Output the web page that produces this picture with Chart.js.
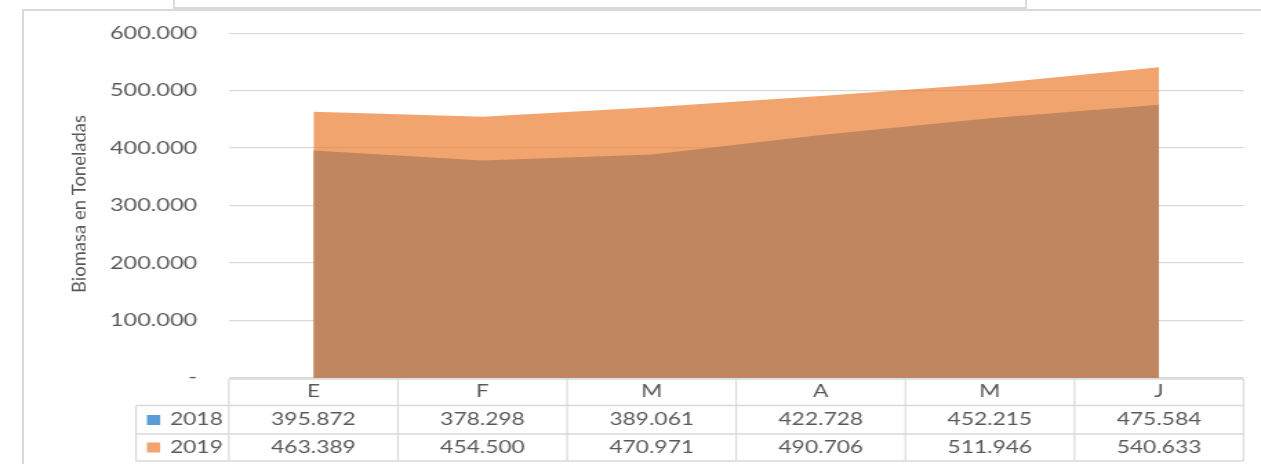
<!DOCTYPE html>
<html>
<head>
<meta charset="utf-8">
<script src="https://cdn.jsdelivr.net/npm/chart.js@4.4.1/dist/chart.umd.min.js"></script>
<style>
  html, body { margin: 0; padding: 0; background: #fff; overflow: hidden; }
  #page { position: relative; width: 1261px; height: 464px; overflow: hidden; background: #fff; }
  #frame { position: absolute; left: 22px; top: 9px; right: -10px; bottom: -10px;
           border-left: 2px solid #d9d9d9; border-top: 2px solid #d9d9d9; }
  #topbox { position: absolute; left: 173px; top: -4px; width: 850px; height: 9px;
            border: 2px solid #d9d9d9; background: #fff; }
  #stage { position: absolute; left: 0; top: 0; width: 914px; height: 464px;
           transform: scaleX(1.3796); transform-origin: 0 0; }
  #chart { display: block; }
</style>
</head>
<body>
<div id="page">
  <div id="frame"></div>
  <div id="topbox"></div>
  <div id="stage"><canvas id="chart" width="914" height="464"></canvas></div>
</div>
<script>
// Monthly biomass (tonnes)
const months = ['E', 'F', 'M', 'A', 'M', 'J'];
const seriesNames = ['2018', '2019'];
const biomasa2018 = [395872, 378298, 389061, 422728, 452215, 475584];
const biomasa2019 = [463389, 454500, 470971, 490706, 511946, 540633];
const yTickValues = [0, 100000, 200000, 300000, 400000, 500000, 600000];

const SX = 1261 / 914;          // horizontal stretch of the stage
const FONT = 'Lato, "Open Sans", sans-serif';
const TEXT = '#595959';
const LINE = '#d9d9d9';

const orangeFill = 'rgba(237,125,49,0.70)';
const brownFill = 'rgb(192,134,95)';
const keyColors = ['rgb(91,155,213)', 'rgb(242,164,111)'];

function fmt(v) {
  if (v === 0) return '-';
  return String(Math.round(v)).replace(/\B(?=(\d{3})+(?!\d))/g, '.');
}

// Data table under the plot plus the rotated axis title
const tablePlugin = {
  id: 'dataTable',
  afterDraw(chart) {
    const { ctx, chartArea: a, scales: { x } } = chart;
    const n = months.length;
    const colW = (a.right - a.left) / n;
    const edges = [];
    for (let i = 0; i < n; i++) edges.push(x.getPixelForValue(i) - colW / 2);
    edges.push(x.getPixelForValue(n - 1) + colW / 2);
    const legendLeft = 98.6;
    const yHead = 379, yRow1 = 405.5, yRow2 = 434, yEnd = 461;

    ctx.save();
    ctx.strokeStyle = LINE;
    // horizontal rules
    ctx.lineWidth = 1.6;
    ctx.beginPath();
    ctx.moveTo(edges[0], yHead); ctx.lineTo(edges[n], yHead);
    ctx.moveTo(legendLeft, yRow1); ctx.lineTo(edges[n], yRow1);
    ctx.moveTo(legendLeft, yRow2); ctx.lineTo(edges[n], yRow2);
    ctx.moveTo(legendLeft, yEnd); ctx.lineTo(edges[n], yEnd);
    ctx.stroke();
    // vertical rules
    ctx.lineWidth = 1.6 / SX;
    ctx.beginPath();
    edges.forEach(e => { ctx.moveTo(e, yHead); ctx.lineTo(e, yEnd); });
    ctx.moveTo(legendLeft, yRow1); ctx.lineTo(legendLeft, yEnd);
    ctx.stroke();

    ctx.fillStyle = TEXT;
    ctx.textBaseline = 'middle';
    ctx.textAlign = 'center';
    ctx.font = '16.5px ' + FONT;
    months.forEach((m, i) => ctx.fillText(m, x.getPixelForValue(i), 392));
    const rows = [biomasa2018, biomasa2019];
    const rowY = [420, 447.5];
    rows.forEach((vals, r) => {
      vals.forEach((v, i) => ctx.fillText(fmt(v), x.getPixelForValue(i), rowY[r]));
    });
    // legend keys
    ctx.textAlign = 'left';
    seriesNames.forEach((name, r) => {
      ctx.fillStyle = keyColors[r];
      ctx.fillRect(106.5, rowY[r] - 5, 9.6, 10);
      ctx.fillStyle = TEXT;
      ctx.fillText(name, 123.2, rowY[r]);
    });

    // axis title, drawn without the stage stretch
    ctx.translate(79 / SX, 204);
    ctx.scale(1 / SX, 1);
    ctx.rotate(-Math.PI / 2);
    ctx.textAlign = 'center';
    ctx.font = '19.5px ' + FONT;
    ctx.fillText('Biomasa en Toneladas', 0, 0, 178);
    ctx.restore();
  }
};

new Chart(document.getElementById('chart'), {
  type: 'line',
  data: {
    labels: months,
    datasets: [
      { label: seriesNames[0], data: biomasa2018, fill: 'origin', backgroundColor: brownFill,
        borderWidth: 0, pointRadius: 0, tension: 0, order: 0 },
      { label: seriesNames[1], data: biomasa2019, fill: 'origin', backgroundColor: orangeFill,
        borderWidth: 0, pointRadius: 0, tension: 0, order: 1 }
    ]
  },
  options: {
    responsive: false,
    animation: false,
    devicePixelRatio: 1,
    layout: { padding: { left: 0, top: 30, right: 12.6, bottom: 86 } },
    plugins: { legend: { display: false }, tooltip: { enabled: false } },
    scales: {
      x: { display: false, offset: true },
      y: {
        min: 0, max: 600000,
        afterBuildTicks(scale) { scale.ticks = yTickValues.map(v => ({ value: v })); },
        afterFit(scale) { scale.width = 165.9; },
        border: { display: false },
        grid: { color: LINE, lineWidth: 1.3, drawTicks: false },
        ticks: { padding: 23, color: TEXT, font: { family: FONT, size: 17 }, callback: v => fmt(v) }
      }
    }
  },
  plugins: [tablePlugin]
});
</script>
</body>
</html>
